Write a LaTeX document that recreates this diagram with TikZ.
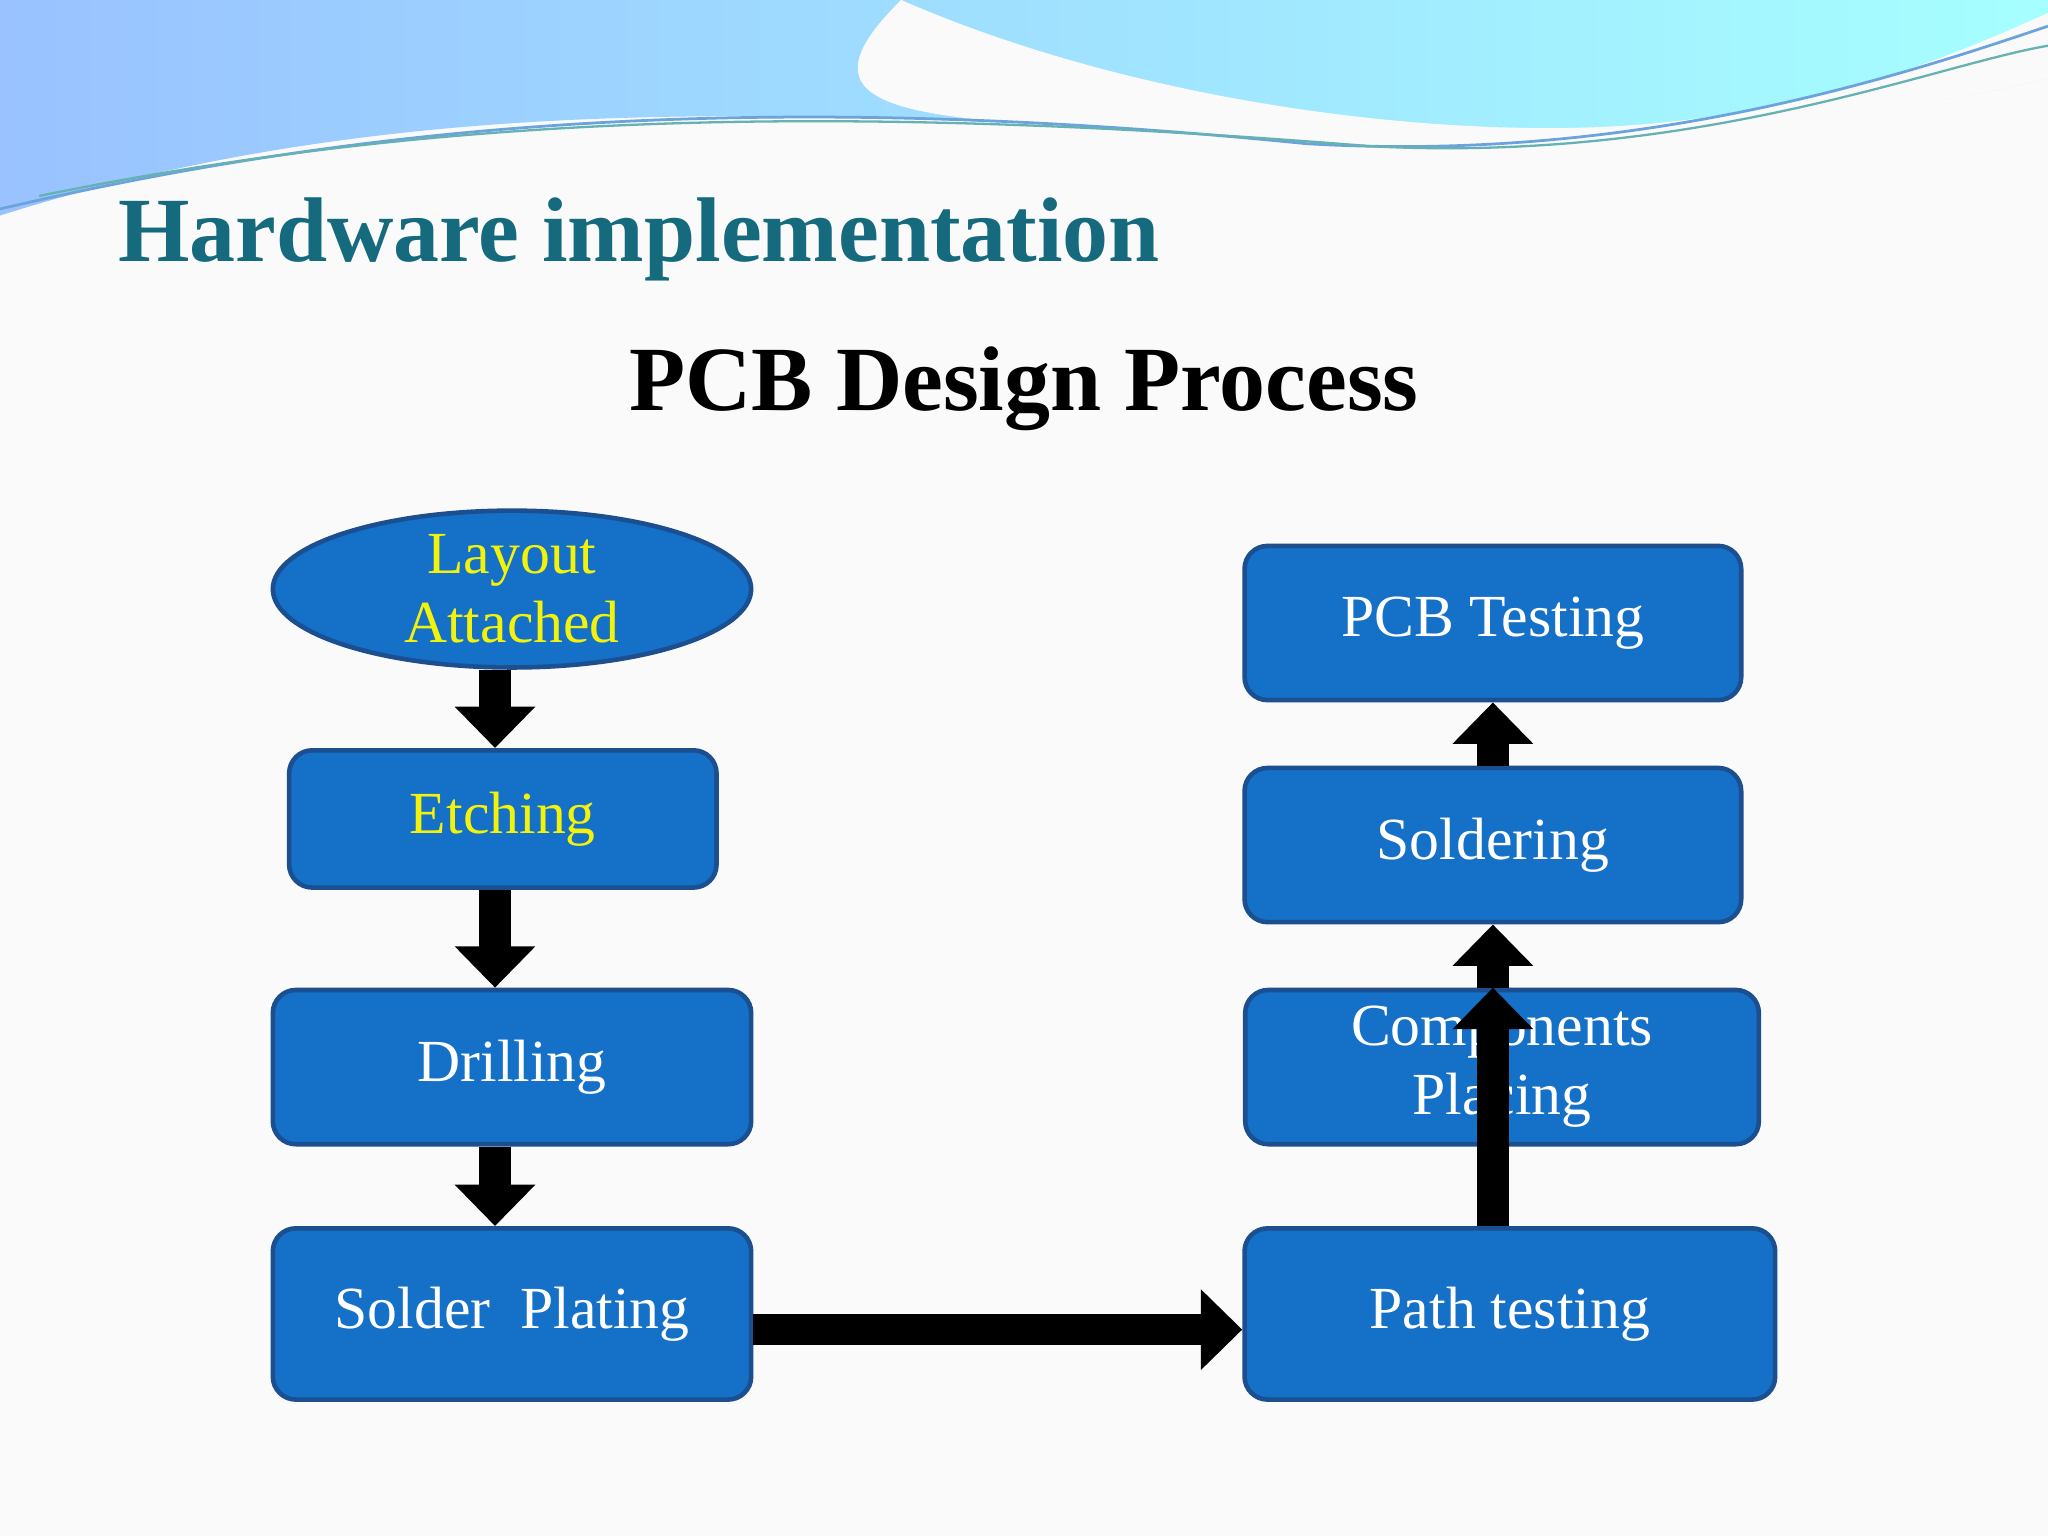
\documentclass[tikz,border=0pt]{standalone}
\usepackage{fontspec}
\setmainfont{Liberation Serif}
\usetikzlibrary{shapes.geometric,arrows.meta}
\definecolor{boxfill}{HTML}{1570C8}
\definecolor{boxline}{HTML}{1B4F8F}
\definecolor{titleteal}{HTML}{156A7E}
\definecolor{ylw}{HTML}{F2F20A}
\tikzset{
 stepbox/.style={draw=boxline,line width=1pt,fill=boxfill,rounded corners=5pt,align=center,text=white,font=\fontsize{13}{15}\selectfont,inner sep=0pt},
 flow/.style={line width=6.8pt,-{Triangle[length=9pt,width=17pt]},black},
}
\begin{document}
\begin{tikzpicture}[x=0.01cm,y=-0.01cm]
\useasboundingbox (0,0) rectangle (1568,1176);
\fill[white!96!gray] (0,0) rectangle (1568,1176);
% waves
\shade[left color=cyan!40!blue!40!white,right color=cyan!35!white]
 (0,0) -- (1568,0) -- (1568,60) .. controls (1400,100) and (1200,110) .. (900,100)
 .. controls (600,85) and (300,70) .. (0,165) -- cycle;
\fill[white!96!gray] (690,0) .. controls (850,70) and (1050,100) .. (1200,98)
 .. controls (1380,95) and (1500,40) .. (1568,10) -- (1568,60)
 .. controls (1400,100) and (1200,112) .. (900,100) .. controls (700,92) and (600,88) .. (690,0) -- cycle;
\draw[cyan!60!blue!60,line width=0.6pt] (0,160) .. controls (300,90) and (600,70) .. (1000,110) .. controls (1250,125) and (1450,60) .. (1568,20);
\draw[teal!60,line width=0.5pt] (30,150) .. controls (350,85) and (650,80) .. (1050,112) .. controls (1300,125) and (1480,50) .. (1568,35);
\node[anchor=west,text=titleteal,font=\fontsize{20}{24}\selectfont\bfseries] (title) at (78,183) {Hardware implementation};
\node[font=\fontsize{20}{24}\selectfont\bfseries] (sub) at (784,298) {PCB Design Process};
% nodes
\node[ellipse,draw=boxline,line width=1pt,fill=boxfill,text=ylw,align=center,font=\fontsize{13}{15}\selectfont,minimum width=3.66cm,minimum height=1.2cm,inner sep=0pt] (lay) at (392,451) {Layout\\Attached};
\node[stepbox,text=ylw,minimum width=3.27cm,minimum height=1.05cm] (etch) at (385,627) {Etching};
\node[stepbox,minimum width=3.66cm,minimum height=1.18cm] (drill) at (392,817) {Drilling};
\node[stepbox,minimum width=3.66cm,minimum height=1.31cm] (solp) at (392,1006) {Solder\ \ Plating};
\node[stepbox,minimum width=3.8cm,minimum height=1.18cm] (test) at (1143,477) {PCB Testing};
\node[stepbox,minimum width=3.8cm,minimum height=1.18cm] (sold) at (1143,647) {Soldering};
\node[stepbox,minimum width=3.93cm,minimum height=1.18cm] (comp) at (1150,817) {Components\\Placing};
\node[stepbox,minimum width=4.06cm,minimum height=1.31cm] (path) at (1156,1006) {Path testing};
% arrows
\draw[flow] (lay.south -| 379,0) -- (etch.north -| 379,0);
\draw[flow] (etch.south -| 379,0) -- (drill.north -| 379,0);
\draw[flow] (drill.south -| 379,0) -- (solp.north -| 379,0);
\draw[flow] (solp.east |- 0,1018) -- (path.west |- 0,1018);
\draw[flow] (path.north -| 1143,0) -- (comp.north -| 1143,0);
\draw[flow] (comp.north -| 1143,0) -- (sold.south -| 1143,0);
\draw[flow] (sold.north -| 1143,0) -- (test.south -| 1143,0);
\end{tikzpicture}
\end{document}
